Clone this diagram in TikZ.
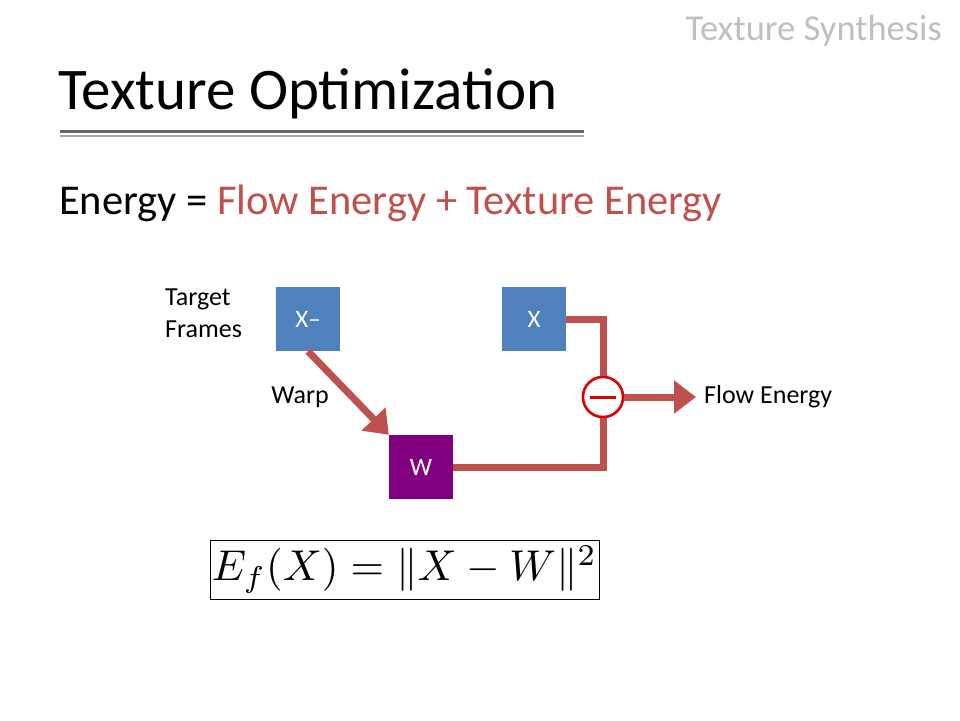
\documentclass[tikz,border=0pt]{standalone}
\usepackage{fontspec}
\setmainfont{Carlito}
\usepackage{graphicx}
\usetikzlibrary{arrows.meta}
\definecolor{accred}{HTML}{C0504D}
\definecolor{boxblue}{HTML}{4F81BD}
\definecolor{boxpurple}{HTML}{800080}
\definecolor{minusred}{HTML}{E00000}
\definecolor{hdrgray}{HTML}{BFBFBF}
\tikzset{
  sqbox/.style={minimum width=64pt, minimum height=64pt, inner sep=0pt, text=white, font=\fontsize{25}{30}\selectfont},
  lbl/.style={inner sep=0pt, font=\fontsize{26}{32}\selectfont, text=black},
  conn/.style={draw=accred, line width=7pt},
  arr/.style={conn, -{Triangle[length=22pt,width=32pt]}},
}
\begin{document}
\begin{tikzpicture}[x=1pt,y=-1pt]
\useasboundingbox (0,0) rectangle (960,720);
% header
\node[anchor=base east, inner sep=0pt, text=hdrgray, font=\fontsize{36.5}{40}\selectfont] (hdr) at (942,40) {Texture Synthesis};
\node[anchor=base west, inner sep=0pt, font=\fontsize{59}{66}\selectfont] (title) at (58,109) {Texture Optimization};
\draw[draw=gray!80!black, line width=3pt] (60,131.5) -- (584,131.5);
\draw[draw=gray!70, line width=1.5pt] (60,136) -- (584,136);
\node[anchor=base west, inner sep=0pt, font=\fontsize{42.5}{48}\selectfont] (energy) at (59,214) {Energy = \textcolor{accred}{Flow Energy + Texture Energy}};
% boxes
\node[sqbox, fill=boxblue] (xbar) at (308,319) {X–};
\node[sqbox, fill=boxblue] (x) at (534,319) {X};
\node[sqbox, fill=boxpurple] (w) at (421,467) {W};
\node[lbl, align=left, anchor=north west] (tf) at (165,289) {Target\\Frames};
\node[lbl] (warp) at (300,397) {Warp};
\node[lbl, anchor=west] (fe) at (704,397) {Flow Energy};
% circle
\node[circle, draw=minusred, line width=2.5pt, fill=white, minimum size=40pt, inner sep=0pt] (minus) at (603,397) {};
% connectors
\draw[conn] (x.east) -| (minus.north);
\draw[conn] (w.east) -| (minus.south);
\node[circle, draw=minusred, line width=2.5pt, fill=white, minimum size=40pt, inner sep=0pt] at (minus) {};
\draw[draw=minusred, line width=3pt] ([xshift=-13pt]minus.center) -- ([xshift=13pt]minus.center);
\draw[arr] (xbar.south) -- (w.north west);
\draw[arr] (minus.east) -- ([xshift=-8pt]fe.west);
% formula
\node[draw=black, line width=1pt, inner sep=0pt, minimum width=389pt, minimum height=59pt] (formula) at (404.5,569.5) {\resizebox{385pt}{!}{$E_f(X) = \|X - W\|^2$}};
\end{tikzpicture}
\end{document}
